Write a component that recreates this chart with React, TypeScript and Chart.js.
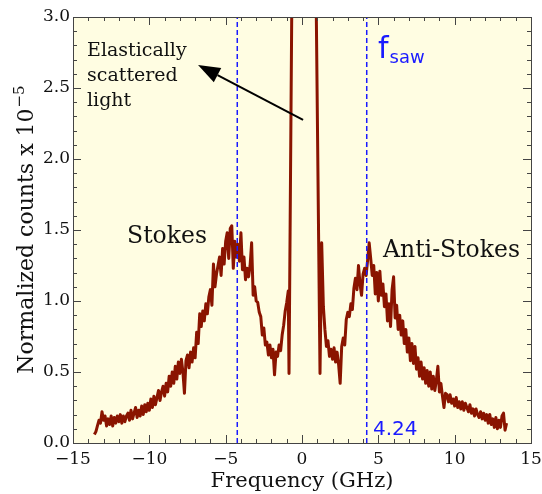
import React, { useEffect, useRef } from "react";
import { Chart, registerables } from "chart.js";
Chart.register(...registerables);

// ---- data ----
const freqLeft = [-13.6,-13.5,-13.4,-13.3,-13.2,-13.1,-13.0,-12.9,-12.8,-12.7,-12.6,-12.5,-12.4,-12.3,-12.2,-12.1,-12.0,-11.9,-11.8,-11.7,-11.6,-11.5,-11.4,-11.3,-11.2,-11.1,-11.0,-10.9,-10.8,-10.7,-10.6,-10.5,-10.4,-10.3,-10.2,-10.1,-10.0,-9.9,-9.8,-9.7,-9.6,-9.5,-9.4,-9.3,-9.2,-9.1,-9.0,-8.9,-8.8,-8.7,-8.6,-8.5,-8.4,-8.3,-8.2,-8.1,-8.0,-7.9,-7.8,-7.7,-7.6,-7.5,-7.4,-7.3,-7.2,-7.1,-7.0,-6.9,-6.8,-6.7,-6.6,-6.5,-6.4,-6.3,-6.2,-6.1,-6.0,-5.9,-5.8,-5.7,-5.6,-5.5,-5.4,-5.3,-5.2,-5.1,-5.0,-4.9,-4.8,-4.7,-4.6,-4.5,-4.4,-4.3,-4.2,-4.1,-4.0,-3.9,-3.8,-3.7,-3.6,-3.5,-3.4,-3.3,-3.2,-3.1,-3.0,-2.9,-2.8,-2.7,-2.6,-2.5,-2.4,-2.3,-2.2,-2.1,-2.0,-1.9,-1.8,-1.7,-1.6,-1.5,-1.4,-1.3,-1.2,-1.1,-1.0,-0.9];
const countsLeft = [0.06,0.08,0.12,0.16,0.14,0.22,0.16,0.19,0.12,0.17,
  0.13,0.19,0.12,0.18,0.14,0.19,0.15,0.20,0.14,0.19,
  0.15,0.19,0.21,0.16,0.23,0.17,0.21,0.25,0.18,0.23,
  0.19,0.26,0.20,0.27,0.22,0.28,0.23,0.31,0.25,0.33,
  0.27,0.32,0.37,0.30,0.36,0.40,0.33,0.42,0.36,0.47,
  0.40,0.50,0.42,0.54,0.45,0.57,0.49,0.59,0.50,0.35,
  0.58,0.62,0.53,0.64,0.57,0.67,0.60,0.78,0.70,0.91,
  0.82,0.93,0.86,0.98,0.91,1.03,1.08,0.97,1.26,1.10,
  1.19,1.25,1.31,1.18,1.37,1.26,1.42,1.48,1.30,1.51,
  1.53,1.23,1.42,1.31,1.40,1.28,1.48,1.22,1.31,1.15,
  1.23,1.17,1.25,1.41,1.04,1.10,1.00,0.99,0.92,0.89,
  0.76,0.81,0.69,0.71,0.62,0.69,0.60,0.66,0.48,0.64,
  0.61,0.69,0.65,0.76,0.83,0.93,0.99,1.07];
const freqCenter = [-0.85,-0.66,-0.3,0.3,0.92,1.18,1.29,1.4];
const countsCenter = [0.49,3.2,30,30,3.2,0.49,1.41,0.96];
const freqRight = [1.5,1.6,1.7,1.8,1.9,2.0,2.1,2.2,2.3,2.4,2.5,2.6,2.7,2.8,2.9,3.0,3.1,3.2,3.3,3.4,3.5,3.6,3.7,3.8,3.9,4.0,4.1,4.2,4.3,4.4,4.5,4.6,4.7,4.8,4.9,5.0,5.1,5.2,5.3,5.4,5.5,5.6,5.7,5.8,5.9,6.0,6.1,6.2,6.3,6.4,6.5,6.6,6.7,6.8,6.9,7.0,7.1,7.2,7.3,7.4,7.5,7.6,7.7,7.8,7.9,8.0,8.1,8.2,8.3,8.4,8.5,8.6,8.7,8.8,8.9,9.0,9.1,9.2,9.3,9.4,9.5,9.6,9.7,9.8,9.9,10.0,10.1,10.2,10.3,10.4,10.5,10.6,10.7,10.8,10.9,11.0,11.1,11.2,11.3,11.4,11.5,11.6,11.7,11.8,11.9,12.0,12.1,12.2,12.3,12.4,12.5,12.6,12.7,12.8,12.9,13.0,13.1,13.2,13.3,13.4];
const countsRight = [0.80,0.68,0.72,0.61,0.66,0.59,0.67,0.57,0.64,0.55,
  0.42,0.68,0.74,0.69,0.87,0.92,0.89,0.98,0.94,1.09,
  1.16,1.08,1.25,1.12,1.04,1.19,1.23,1.18,1.29,1.41,
  1.30,1.18,1.25,1.05,1.20,1.00,1.21,1.04,1.12,0.96,
  1.05,0.86,0.98,0.82,1.08,1.17,0.88,0.97,0.80,0.90,
  0.76,0.86,0.70,0.80,0.64,0.74,0.58,0.70,0.56,0.68,
  0.52,0.60,0.47,0.57,0.45,0.53,0.42,0.51,0.40,0.50,
  0.38,0.47,0.37,0.44,0.54,0.36,0.42,0.33,0.25,0.35,
  0.34,0.29,0.34,0.28,0.31,0.26,0.32,0.25,0.29,0.24,
  0.29,0.23,0.28,0.25,0.22,0.27,0.21,0.24,0.19,0.24,
  0.20,0.18,0.22,0.17,0.21,0.16,0.20,0.14,0.20,0.13,
  0.17,0.11,0.18,0.10,0.16,0.11,0.19,0.21,0.09,0.14];
const fSaw = 4.24;
const xMin = -15, xMax = 15, yMin = 0, yMax = 3.0;
const xTickStep = 5, yTickStep = 0.5;

const RED = "#8a1400";
const BLUE = "#1a1aff";
const SERIF = "'DejaVu Serif', serif";
const SANS = "'DejaVu Sans', sans-serif";

const toPoints = (xs: number[], ys: number[]) => xs.map((x, i) => ({ x, y: ys[i] }));

const decorPlugin = {
  id: "decor",
  beforeDraw(chart: any) {
    const { ctx, chartArea: a } = chart;
    ctx.save();
    ctx.fillStyle = "#fffde2";
    ctx.fillRect(a.left, a.top, a.right - a.left, a.bottom - a.top);
    ctx.restore();
  },
  afterDatasetsDraw(chart: any) {
    const { ctx, chartArea: a, scales } = chart;
    const xs = scales.x, ys = scales.y;
    ctx.save();
    ctx.strokeStyle = "#444";
    ctx.lineWidth = 1;
    ctx.beginPath();
    for (let v = xMin; v <= xMax + 1e-9; v += 1) {
      const px = Math.round(xs.getPixelForValue(v)) + 0.5;
      const len = Math.abs(v % 5) < 1e-9 ? 8 : 4;
      ctx.moveTo(px, a.bottom); ctx.lineTo(px, a.bottom - len);
      ctx.moveTo(px, a.top); ctx.lineTo(px, a.top + len);
    }
    for (let i = 0; i <= 30; i++) {
      const v = i * 0.1;
      const py = Math.round(ys.getPixelForValue(v)) + 0.5;
      const len = i % 5 === 0 ? 8 : 4;
      ctx.moveTo(a.left, py); ctx.lineTo(a.left + len, py);
      ctx.moveTo(a.right, py); ctx.lineTo(a.right - len, py);
    }
    ctx.stroke();
    ctx.strokeRect(Math.round(a.left) + 0.5, Math.round(a.top) + 0.5, Math.round(a.right - a.left), Math.round(a.bottom - a.top));
    ctx.restore();
  },
  afterDraw(chart: any) {
    const { ctx, chartArea: a, scales } = chart;
    const X = (v: number) => scales.x.getPixelForValue(v);
    const Y = (v: number) => scales.y.getPixelForValue(v);
    ctx.save();
    ctx.fillStyle = "#111";
    ctx.textBaseline = "alphabetic";
    ctx.textAlign = "left";
    // Elastically scattered light
    ctx.font = `19px ${SERIF}`;
    const ex = X(-14.08), ey = Y(2.725);
    ctx.fillText("Elastically", ex, ey);
    ctx.fillText("scattered", ex, ey + 25);
    ctx.fillText("light", ex, ey + 50);
    // Stokes / Anti-Stokes
    ctx.font = `23.5px ${SERIF}`;
    ctx.fillText("Stokes", X(-11.46), Y(1.408));
    ctx.fillText("Anti-Stokes", X(5.31), Y(1.31));
    // arrow
    const tx = X(0.07), ty = Y(2.275), hx = X(-6.81), hy = Y(2.662);
    const ang = Math.atan2(hy - ty, hx - tx);
    const hl = 22, hw = 8;
    const bx = hx - hl * Math.cos(ang), by = hy - hl * Math.sin(ang);
    ctx.strokeStyle = "#000";
    ctx.lineWidth = 2;
    ctx.beginPath();
    ctx.moveTo(tx, ty); ctx.lineTo(bx, by); ctx.stroke();
    ctx.fillStyle = "#000";
    ctx.beginPath();
    ctx.moveTo(hx, hy);
    ctx.lineTo(bx + hw * Math.sin(ang), by - hw * Math.cos(ang));
    ctx.lineTo(bx - hw * Math.sin(ang), by + hw * Math.cos(ang));
    ctx.closePath(); ctx.fill();
    // f_saw
    ctx.fillStyle = BLUE;
    ctx.font = `30px ${SANS}`;
    const fx = X(4.98), fy = Y(2.711);
    ctx.fillText("f", fx, fy);
    const fw = ctx.measureText("f").width;
    ctx.font = `18px ${SANS}`;
    ctx.fillText("saw", fx + fw + 1, fy + 5);
    // 4.24
    ctx.font = `20px ${SANS}`;
    ctx.fillText(fSaw.toFixed(2), X(4.65), Y(0.056));
    // axis titles
    ctx.fillStyle = "#111";
    ctx.font = `21px ${SERIF}`;
    ctx.textAlign = "center";
    ctx.fillText("Frequency (GHz)", (a.left + a.right) / 2, 487);
    // y title rotated with superscript
    ctx.translate(33, (a.top + a.bottom) / 2);
    ctx.rotate(-Math.PI / 2);
    ctx.textAlign = "left";
    const main = "Normalized counts x 10";
    const sup = "\u22125";
    ctx.font = `22px ${SERIF}`;
    const mw = ctx.measureText(main).width;
    ctx.font = `15px ${SERIF}`;
    const sw = ctx.measureText(sup).width;
    const start = -(mw + sw) / 2;
    ctx.font = `22px ${SERIF}`;
    ctx.fillText(main, start, 0);
    ctx.font = `15px ${SERIF}`;
    ctx.fillText(sup, start + mw + 1, -9);
    ctx.restore();
  },
};

const noPad = (s: any) => { s.paddingLeft = 0; s.paddingRight = 0; s.paddingTop = 0; s.paddingBottom = 0; };

export default function App() {
  const ref = useRef<HTMLCanvasElement | null>(null);
  useEffect(() => {
    if (!ref.current) return;
    const spectrum = [
      ...toPoints(freqLeft, countsLeft),
      ...toPoints(freqCenter, countsCenter),
      ...toPoints(freqRight, countsRight),
    ];
    const chart = new Chart(ref.current, {
      type: "line",
      data: {
        datasets: [
          { data: [{ x: -fSaw, y: yMin }, { x: -fSaw, y: yMax }], borderColor: BLUE, borderWidth: 1.5, borderDash: [5, 3], pointRadius: 0 },
          { data: [{ x: fSaw, y: yMin }, { x: fSaw, y: yMax }], borderColor: BLUE, borderWidth: 1.5, borderDash: [5, 3], pointRadius: 0 },
          { data: spectrum, borderColor: RED, borderWidth: 3, pointRadius: 0, tension: 0, borderJoinStyle: "round" },
        ],
      },
      options: {
        animation: false,
        responsive: true,
        maintainAspectRatio: false,
        layout: { padding: { top: 17, right: 11, left: 0, bottom: 0 } },
        plugins: { legend: { display: false }, tooltip: { enabled: false } },
        scales: {
          x: {
            type: "linear", min: xMin, max: xMax,
            grid: { display: false, drawTicks: false },
            border: { display: false },
            ticks: {
              stepSize: xTickStep, padding: 6, color: "#111",
              font: { family: SERIF, size: 17 },
              callback: (v: any) => String(v).replace("-", "\u2212"),
            },
            afterFit: (s: any) => { s.height = 51; noPad(s); },
          },
          y: {
            type: "linear", min: yMin, max: yMax,
            grid: { display: false, drawTicks: false },
            border: { display: false },
            ticks: {
              stepSize: yTickStep, padding: 3, color: "#111",
              font: { family: SERIF, size: 17 },
              callback: (v: any) => Number(v).toFixed(1),
            },
            afterFit: (s: any) => { s.width = 73; noPad(s); },
          },
        },
      },
      plugins: [decorPlugin],
    });
    return () => chart.destroy();
  }, []);
  return (
    <div style={{ position: "absolute", left: 0, top: 0, width: 542, height: 494, background: "#fff" }}>
      <canvas ref={ref} />
    </div>
  );
}
